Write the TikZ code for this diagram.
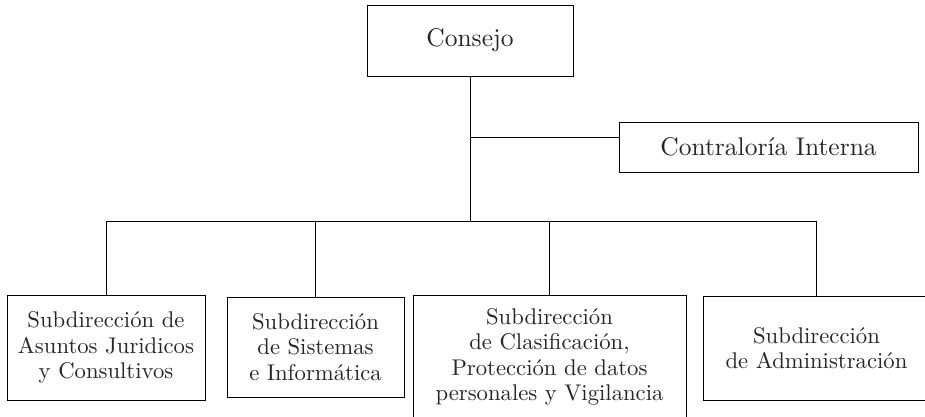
\documentclass[tikz,border=0pt]{standalone}
\usepackage{fontspec}
\newfontfamily\boxfont{lmroman10-regular.otf}
\begin{document}
\begin{tikzpicture}[x=1pt,y=-1pt,
  unit/.style={draw=black, line width=1pt, rectangle, inner sep=0pt,
    align=center, text=black!85, font=\boxfont\fontsize{22.7}{25.5}\selectfont},
  head/.style={unit, font=\boxfont\fontsize{25.5}{27}\selectfont},
  link/.style={draw=black, line width=0.9pt}]
\useasboundingbox (0,0) rectangle (925,416);

% top level
\node[head, minimum width=206pt, minimum height=71pt] (consejo) at (470,40.5) {Consejo};
\node[head, minimum width=299pt, minimum height=50pt] (contra) at (768.5,147) {Contraloría Interna};

% subdirections
\node[unit, minimum width=198pt, minimum height=105pt] (s1) at (106,347.5)
  {Subdirección de\\Asuntos Juridicos\\y Consultivos};
\node[unit, minimum width=177pt, minimum height=100pt] (s2) at (315.5,347)
  {Subdirección\\de Sistemas\\e Informática};
\node[unit, minimum width=273pt, minimum height=124pt] (s3) at (549.5,357)
  {Subdirección\\de Clasificación,\\Protección de datos\\personales y Vigilancia};
\node[unit, minimum width=227pt, minimum height=104pt] (s4) at (816.5,348)
  {Subdirección\\de Administración};

% connectors
\coordinate (side) at (470,137);
\coordinate (bus) at (470,221);
\draw[link] (consejo.south) -- (bus);
\draw[link] (side) -- (side -| contra.west);
\draw[link] (s1.north |- bus) -- (s4.north |- bus);
\foreach \n in {s1,s2,s3,s4}
  \draw[link] (\n.north) -- (\n.north |- bus);
\end{tikzpicture}
\end{document}
